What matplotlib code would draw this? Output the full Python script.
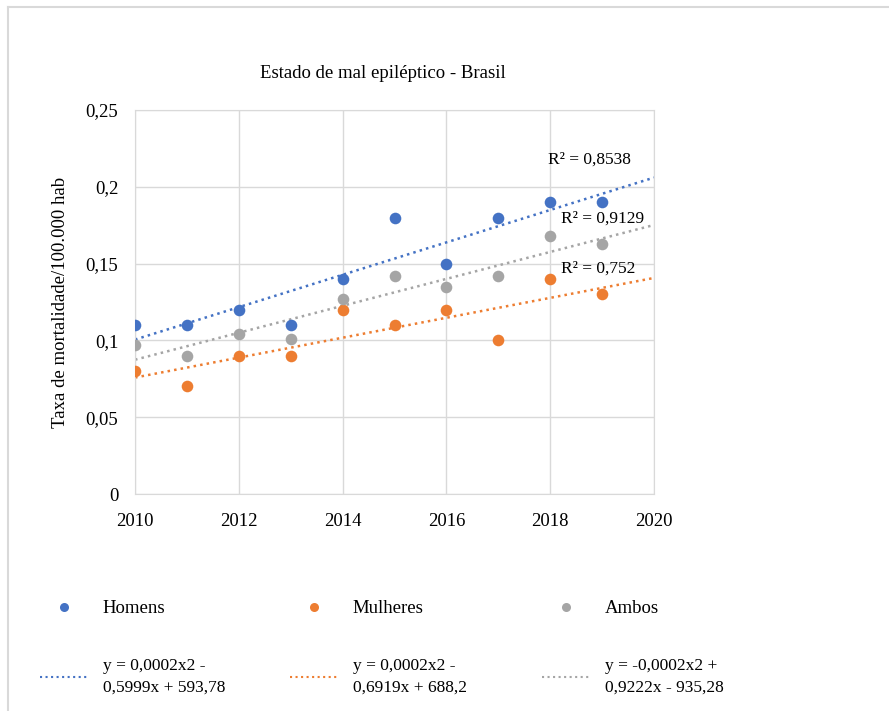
import numpy as np
import matplotlib
matplotlib.use('Agg')
import matplotlib.pyplot as plt
from matplotlib.lines import Line2D

plt.rcParams['font.family'] = ['Liberation Serif', 'DejaVu Serif']

years = [2010, 2011, 2012, 2013, 2014, 2015, 2016, 2017, 2018, 2019]
homens = [0.11, 0.11, 0.12, 0.11, 0.14, 0.18, 0.15, 0.18, 0.19, 0.19]
mulheres = [0.08, 0.07, 0.09, 0.09, 0.12, 0.11, 0.12, 0.10, 0.14, 0.13]
ambos = [0.097, 0.09, 0.104, 0.101, 0.127, 0.142, 0.135, 0.142, 0.168, 0.163]

names = ['Homens', 'Mulheres', 'Ambos']
colors = ['#4472C4', '#ED7D31', '#A5A5A5']
eqs = ['y = 0,0002x2 -\n0,5999x + 593,78',
       'y = 0,0002x2 -\n0,6919x + 688,2',
       'y = -0,0002x2 +\n0,9222x - 935,28']
r2 = ['R² = 0,8538', 'R² = 0,752', 'R² = 0,9129']
r2_pos = [(2017.95, 0.2175), (2018.2, 0.147), (2018.2, 0.179)]

fig = plt.figure(figsize=(8.89, 7.11), dpi=100)
ax = fig.add_axes([0.1519, 0.3052, 0.5838, 0.5401])

# chart frame (top / left border of the excel chart area)
fig.add_artist(Line2D([8/889, 1], [1-7/711, 1-7/711], transform=fig.transFigure, color='#D9D9D9', lw=1.5))
fig.add_artist(Line2D([8/889, 8/889], [0, 1-7/711], transform=fig.transFigure, color='#D9D9D9', lw=1.5))

xfit = np.linspace(2010, 2020, 50)
handles = []
for vals, name, c, eq, r, pos in zip([homens, mulheres, ambos], names, colors, eqs, r2, r2_pos):
    ax.scatter(years, vals, s=70, color=c, zorder=3, linewidths=0)
    p = np.polyfit(years, vals, 1)
    ax.plot(xfit, np.polyval(p, xfit), ':', color=c, lw=1.8, zorder=2)
    ax.text(pos[0], pos[1], r, fontsize=12.5, va='center', ha='left')
    handles.append((Line2D([], [], marker='o', ls='', color=c, markersize=6.5, markeredgewidth=0),
                    Line2D([], [], ls=':', color=c, lw=1.5), name, eq))

ax.set_xlim(2010, 2020)
ax.set_ylim(0, 0.25)
ax.set_xticks(range(2010, 2021, 2))
ax.set_yticks([0, 0.05, 0.1, 0.15, 0.2, 0.25])
ax.set_yticklabels(['0', '0,05', '0,1', '0,15', '0,2', '0,25'])
ax.tick_params(length=0, labelsize=13.5)
ax.tick_params(axis='x', pad=14)
ax.tick_params(axis='y', pad=12)
ax.grid(True, color='#D9D9D9', lw=1)
for s in ax.spines.values():
    s.set_color('#D9D9D9')
ax.set_axisbelow(True)
ax.set_ylabel('Taxa de mortalidade/100.000 hab', fontsize=13.5, labelpad=12)

fig.text(383/889, 1-73/711, 'Estado de mal epiléptico - Brasil', fontsize=13.5, ha='center', va='center')

# legend: one small legend per column
col_x = [40, 290, 542]
for (mk, ln, name, eq), x in zip(handles, col_x):
    leg = fig.legend([mk, ln], [name, eq], loc='upper left', bbox_to_anchor=(x/889, 1-600/711),
                     frameon=False, fontsize=13.5, handlelength=2.6, handletextpad=0.75,
                     labelspacing=2.2, borderpad=0, borderaxespad=0)
    leg.get_texts()[1].set_fontsize(12.5)
    leg.get_texts()[1].set_linespacing(1.45)

plt.savefig('out.png', dpi=100)
